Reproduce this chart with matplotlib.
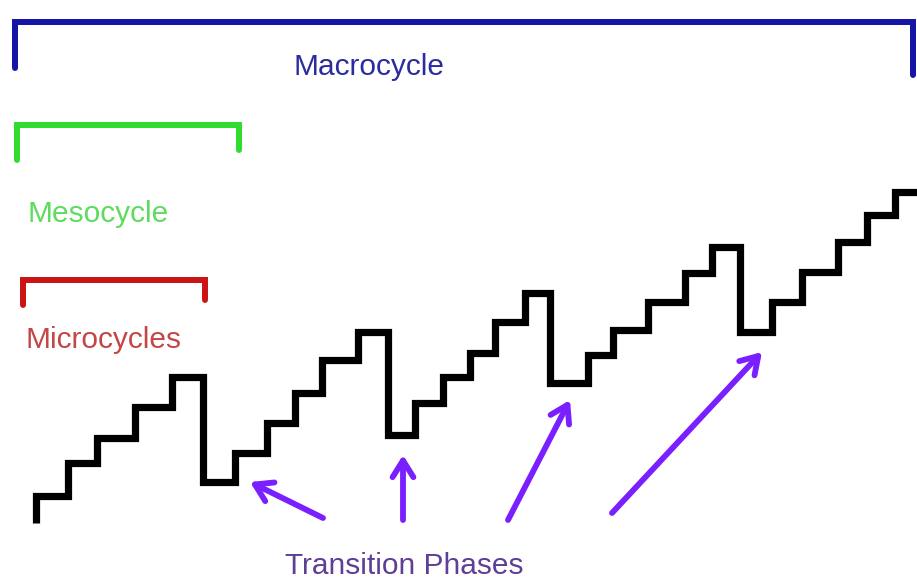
import matplotlib.pyplot as plt

# staircase: x corners and the level that starts at each corner (pixel space, y down)
step_x = [36, 36, 68, 97, 135, 172, 203, 235, 267, 295, 322, 358, 388, 415, 443,
          470, 495, 525, 550, 588, 613, 648, 685, 712, 740, 772, 802, 838, 867, 895, 917]
step_y = [523, 496, 463, 438, 407, 377, 482, 453, 423, 393, 360, 332, 435, 403, 377,
          353, 322, 293, 383, 355, 330, 302, 273, 247, 332, 302, 272, 242, 215, 192, 192]

# brackets: label, x0, x1, bar y, left leg end, right leg end, colour, text pos, text colour
brackets = [
    ("Macrocycle", 15, 913, 22, 68, 75, "#1414a6", (294, 75), "#2c2ca0"),
    ("Mesocycle", 17, 239, 125, 160, 150, "#2fdc2f", (28, 222), "#5edc5e"),
    ("Microcycles", 23, 205, 280, 305, 300, "#cc1414", (25, 348), "#c44646"),
]

# transition arrows: tail -> head
arrow_tails = [(323, 518), (403, 520), (508, 520), (612, 513)]
arrow_heads = [(250, 482), (403, 455), (570, 400), (762, 352)]

fig = plt.figure(figsize=(9.17, 5.85), dpi=100)
ax = fig.add_axes([0, 0, 1, 1])
ax.set_xlim(0, 917)
ax.set_ylim(585, 0)
ax.axis("off")

ax.step(step_x, step_y, where="post", color="black", lw=5.2,
        solid_joinstyle="miter", solid_capstyle="butt")

for label, x0, x1, yb, yl, yr, col, (tx, ty), tcol in brackets:
    ax.plot([x0, x0, x1, x1], [yl, yb, yb, yr], color=col, lw=4.3,
            solid_joinstyle="miter", solid_capstyle="round")
    ax.text(tx, ty, label, color=tcol, fontsize=21.5, family="Liberation Sans",
            ha="left", va="baseline")

for (x0, y0), (x1, y1) in zip(arrow_tails, arrow_heads):
    ax.annotate("", xy=(x1, y1), xytext=(x0, y0),
                arrowprops=dict(arrowstyle="->,head_length=1.2,head_width=0.75",
                                color="#7a1fff", lw=4.2, shrinkA=0, shrinkB=0))

ax.text(285, 574, "Transition Phases", color="#5e3e96", fontsize=21.5,
        family="Liberation Sans", ha="left", va="baseline")

fig.savefig("out.png", dpi=100)
